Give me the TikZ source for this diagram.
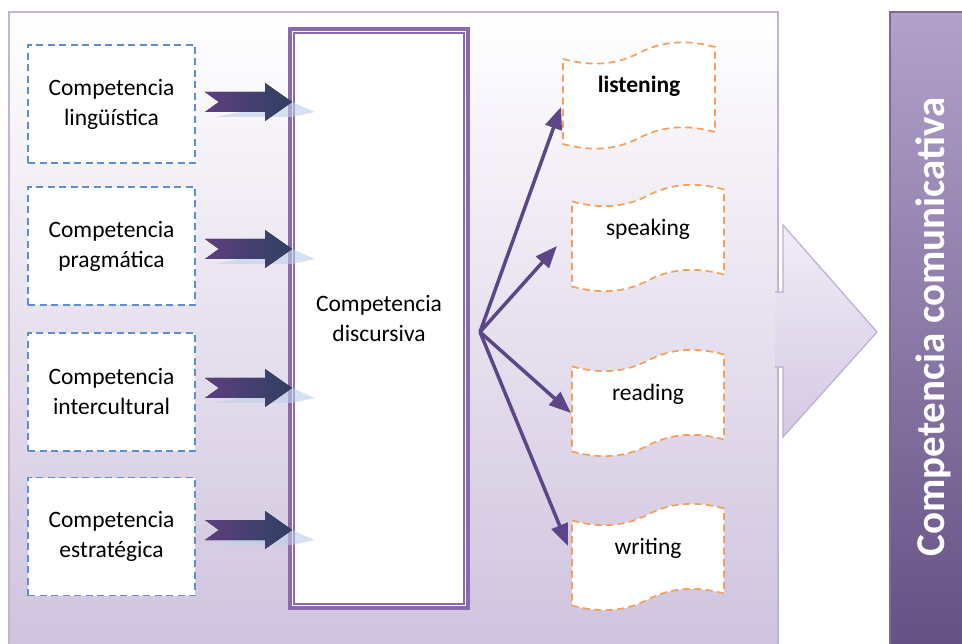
\documentclass[tikz,border=0pt]{standalone}
\usepackage{fontspec}
\setmainfont{Carlito}
\usetikzlibrary{arrows.meta,calc}

\definecolor{panelbot}{HTML}{CBBEDB}
\definecolor{paneledge}{HTML}{C3B3D6}
\definecolor{bartop}{HTML}{B2A2CA}
\definecolor{barbot}{HTML}{5E4A7D}
\definecolor{baredge}{HTML}{7B6A9A}
\definecolor{dashblue}{HTML}{5B8FD0}
\definecolor{dashorange}{HTML}{F5A05A}
\definecolor{discpurple}{HTML}{8A6AAE}
\definecolor{spoke}{HTML}{5B4787}
\definecolor{chevleft}{HTML}{5E3F80}
\definecolor{chevright}{HTML}{2E4060}
\definecolor{glint}{HTML}{BCCFE8}
\definecolor{bigtop}{HTML}{F1EDF6}
\definecolor{bigbot}{HTML}{D4C8E3}
\definecolor{bigedge}{HTML}{BBADD3}

\newcommand\lbl{\fontsize{23.5}{30}\selectfont}

% wavy "tape" outline with its label: name, centre x, centre y, text, extra text style
\newcommand\wavebox[5]{%
  \begin{scope}[shift={(#2,#3)}]
    \draw[wave] (-76,-36.5) .. controls (-50,-29.5) and (-25,-29.5) .. (0,-42.5)
      .. controls (25,-55.5) and (50,-55.5) .. (76,-48.5)
      -- (76,36.5) .. controls (50,29.5) and (25,29.5) .. (0,42.5)
      .. controls (-25,55.5) and (-50,55.5) .. (-76,48.5) -- cycle;
  \end{scope}
  \node[wtext,#5] (#1) at (#2,#3-9) {#4};}

% notched block arrow with its light reflection, centred at height #1
\newcommand\chevron[1]{%
  \fill[glint, opacity=0.6] (215,#1+15) -- (292,#1) -- (315,#1+10) -- (292,#1+15) -- cycle;
  \fill[left color=chevleft, right color=chevright]
    (205,#1-10) -- (265,#1-10) -- (265,#1-19) -- (292,#1) -- (265,#1+19)
    -- (265,#1+10) -- (205,#1+10) -- (219,#1) -- cycle;}

\begin{document}
\begin{tikzpicture}[x=1pt,y=-1pt,
  lbox/.style={draw=dashblue, dash pattern=on 7pt off 4.5pt, line width=1.7pt,
    fill=white, minimum width=167pt, minimum height=118pt, align=center,
    font=\lbl, text=black},
  wave/.style={draw=dashorange, dash pattern=on 7pt off 4.5pt, line width=1.7pt, fill=white},
  wtext/.style={font=\lbl, text=black, inner sep=0pt},
  spokearrow/.style={draw=spoke, line width=3.5pt,
    -{Triangle[length=22pt,width=17pt]}},
]
\useasboundingbox (0,0) rectangle (962,644);
\clip (0,0) rectangle (962,644);

% background panel and the side bar
\shade[top color=white, bottom color=panelbot, draw=paneledge, line width=2pt]
  (9,12) rectangle (778,700);
\shade[top color=bartop, bottom color=barbot, draw=baredge, line width=1.5pt]
  (890,12) rectangle (990,700);
\node[rotate=90, text=white, font=\fontsize{41}{41}\selectfont\bfseries]
  (comm) at (933,327) {Competencia comunicativa};

% wide arrow leaving the panel
\draw[top color=bigtop, bottom color=bigbot, draw=bigedge, line width=1.2pt]
  (775,292) -- (783,292) -- (783,225) -- (877,332) -- (783,437) -- (783,367) -- (775,367);

% component competences
\node[lbox] (c1) at (111.5,104) {Competencia\\lingüística};
\node[lbox] (c2) at (111.5,246) {Competencia\\pragmática};
\node[lbox] (c3) at (111.5,392) {Competencia\\intercultural};
\node[lbox] (c4) at (111.5,536.5) {Competencia\\estratégica};

% discursive competence: double-ruled box
\node[draw=discpurple, line width=4pt, fill=white, minimum width=178pt,
  minimum height=579pt, align=center, font=\lbl, text=black]
  (disc) at (379,318.5) {Competencia\\discursiva};
\draw[discpurple, line width=1.5pt]
  ($(disc.north west)+(6,6)$) rectangle ($(disc.south east)+(-6,-6)$);

\chevron{102}
\chevron{249}
\chevron{388}
\chevron{530}

% the four skills
\wavebox{listen}{639}{95.5}{listening}{font=\lbl\bfseries}
\wavebox{speak}{648}{238}{speaking}{}
\wavebox{read}{648}{403}{reading}{}
\wavebox{write}{648}{557}{writing}{}

\coordinate (hub) at (480,332);
\coordinate (tipL) at (561,107);
\coordinate (tipS) at (557,246);
\coordinate (tipR) at (571,413);
\coordinate (tipW) at (568,546);
\draw[spokearrow] (hub) -- (tipL);
\draw[spokearrow] (hub) -- (tipS);
\draw[spokearrow] (hub) -- (tipR);
\draw[spokearrow] (hub) -- (tipW);
\end{tikzpicture}
\end{document}
